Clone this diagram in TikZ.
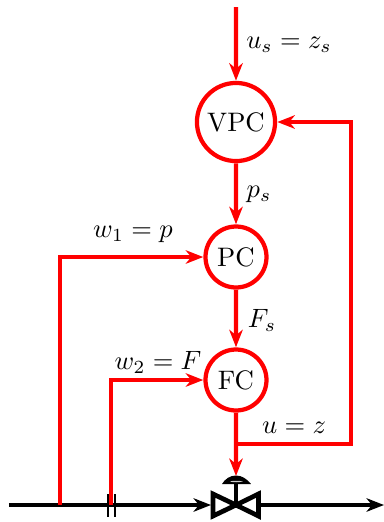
\documentclass[tikz,border=0pt]{standalone}
\usepackage{amsmath}
\usetikzlibrary{arrows.meta}
\tikzset{
	ctrl/.style={draw=red,line width=1.7pt,circle,inner sep=0pt,fill=white,scale=1.07,transform shape},
	sig/.style={draw=red,line width=1.7pt,-{Stealth[length=7pt,width=5.4pt,inset=2.2pt]}},
	pipe/.style={draw=black,line width=1.6pt,-{Stealth[length=7pt,width=5.4pt,inset=2.2pt]}},
	lbl/.style={scale=1.06,transform shape},
	valve/.style={line width=1.9pt,line join=miter},
}
\begin{document}
\begin{tikzpicture}[x=0.4pt,y=-0.4pt]
	\useasboundingbox (0,0) rectangle (384,522);
	\node[ctrl,minimum size=29.2pt] (VPC) at (236,122) {VPC};
	\node[ctrl,minimum size=22.8pt] (PC) at (236,257) {PC};
	\node[ctrl,minimum size=22.8pt] (FC) at (236,380) {FC};
	\coordinate (top) at (236,7);
	\coordinate (in) at (9,505);
	\coordinate (out) at (384,505);
	\coordinate (tapP) at (60,505);
	\coordinate (tapF) at (111,505);
	\coordinate (split) at (236,444);
	\coordinate (corner) at (351,444);
	\coordinate (act) at (236,476);
	\coordinate (center) at (236,505);
	\coordinate (valveL) at (211,505);
	\coordinate (valveR) at (260,505);
	% pipe and orifice
	\draw[pipe] (in)--(valveL);
	\draw[pipe] (valveR)--(out);
	\draw[line width=0.5pt] (108,494)--(108,517) (115,494)--(115,517);
	% valve
	\draw[valve] (center)--(213,494)--(213,516)--cycle;
	\draw[valve] (center)--(258.5,494)--(258.5,516)--cycle;
	\draw[valve] (center)--(236,483);
	\fill (222,484) .. controls (225,479) and (230,475.5) .. (236,475.5) .. controls (242,475.5) and (247,479) .. (251,484)--cycle;
	\fill[gray!40] (230,481.5) .. controls (233,480.5) and (239,480.5) .. (243,481.5) .. controls (239,482.5) and (233,482.5) .. (230,481.5);
	% signals
	\draw[sig] (top)--(VPC);
	\draw[sig] (VPC)--(PC);
	\draw[sig] (PC)--(FC);
	\draw[sig] (FC)--(act);
	\draw[sig] (split)--(corner)|-(VPC);
	\draw[sig] (tapP)|-(PC);
	\draw[sig] (tapF)|-(FC);
	% labels
	\node[lbl] (lbus) at (289,45) {$u_s=z_s$};
	\node[lbl] (lbps) at (259,194) {$p_s$};
	\node[lbl] (lbwa) at (133,234) {$w_1=p$};
	\node[lbl] (lbFs) at (262,320) {$F_s$};
	\node[lbl] (lbwb) at (158,362) {$w_2=F$};
	\node[lbl] (lbu) at (294,428) {$u=z$};
\end{tikzpicture}
\end{document}
